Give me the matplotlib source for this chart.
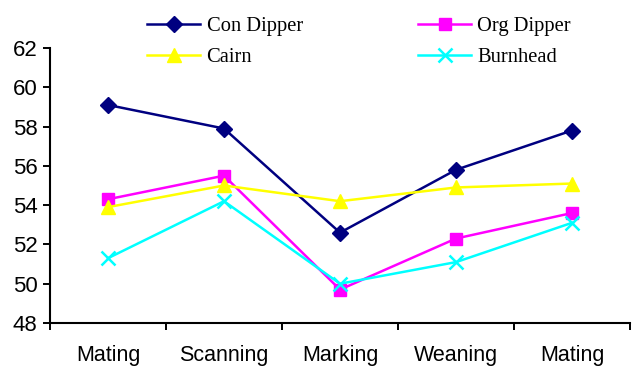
import matplotlib.pyplot as plt
from matplotlib.ticker import FixedLocator

stages = ["Mating", "Scanning", "Marking", "Weaning", "Mating"]
con_dipper = [59.1, 57.9, 52.6, 55.8, 57.8]
org_dipper = [54.3, 55.5, 49.7, 52.3, 53.6]
cairn = [53.9, 55.0, 54.2, 54.9, 55.1]
burnhead = [51.3, 54.2, 50.0, 51.1, 53.1]

fig = plt.figure(figsize=(6.32, 3.67), dpi=100)
ax = fig.add_axes([50 / 632, 44 / 367, 580 / 632, 275 / 367])

x = list(range(len(stages)))
l1, = ax.plot(x, con_dipper, color="#000080", lw=1.8, marker="D", ms=8.5, label="Con Dipper")
l2, = ax.plot(x, org_dipper, color="#FF00FF", lw=1.8, marker="s", ms=9, label="Org Dipper")
l3, = ax.plot(x, cairn, color="#FFFF00", lw=1.8, marker="^", ms=10, label="Cairn")
l4, = ax.plot(x, burnhead, color="#00FFFF", lw=1.8, marker="x", ms=10, mew=1.8, label="Burnhead")

ax.set_xlim(-0.5, len(stages) - 0.5)
ax.set_ylim(48, 62)
ax.set_yticks(range(48, 63, 2))

# tick marks sit between categories, labels in the middle
ax.xaxis.set_major_locator(FixedLocator([i - 0.5 for i in range(len(stages) + 1)]))
ax.xaxis.set_minor_locator(FixedLocator(x))
ax.set_xticklabels([])
ax.set_xticklabels(stages, minor=True)
ax.tick_params(axis="x", which="minor", length=0, pad=16)
ax.tick_params(axis="both", which="major", length=5, width=1.4, direction="out")
ax.tick_params(axis="y", pad=4)

for lab in ax.get_xticklabels(minor=True):
    lab.set_fontfamily("Liberation Sans")
    lab.set_fontsize(15.5)
for lab in ax.get_yticklabels():
    lab.set_fontfamily("Liberation Sans")
    lab.set_fontsize(16)

for side in ["top", "right"]:
    ax.spines[side].set_visible(False)
for side in ["left", "bottom"]:
    ax.spines[side].set_linewidth(1.5)

# legend fills column by column, so order the handles to read row-wise
fig.legend([l1, l3, l2, l4], [l.get_label() for l in (l1, l3, l2, l4)],
           loc="center", bbox_to_anchor=(359 / 632, 1 - 42 / 367), ncol=2,
           frameon=False, handlelength=2.6, columnspacing=5.6, labelspacing=0.55,
           handletextpad=0.3, prop={"family": "Liberation Serif", "size": 14.8})

fig.savefig("out.png", dpi=100)
